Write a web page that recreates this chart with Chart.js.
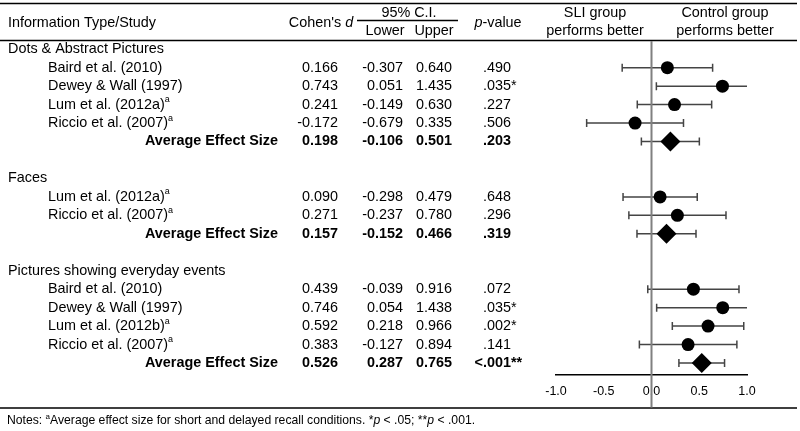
<!DOCTYPE html>
<html>
<head>
<meta charset="utf-8">
<script src="https://cdn.jsdelivr.net/npm/chart.js"></script>
<style>
    html, body { margin: 0; padding: 0; background: #fff; }
    #wrap { width: 800px; height: 431px; position: relative; }
</style>
</head>
<body>
<div id="wrap"><canvas id="forest"></canvas></div>
<script>
// Table rows (top to bottom); '' = spacer row
const rowLabels = [
    'Dots & Abstract Pictures', 'Baird et al. (2010)', 'Dewey & Wall (1997)', 'Lum et al. (2012a)', 'Riccio et al. (2007)', 'Average Effect Size',
    '',
    'Faces', 'Lum et al. (2012a)', 'Riccio et al. (2007)', 'Average Effect Size',
    '',
    'Pictures showing everyday events', 'Baird et al. (2010)', 'Dewey & Wall (1997)', 'Lum et al. (2012b)', 'Riccio et al. (2007)', 'Average Effect Size',
];
const rowKinds = [
    'group', 'study', 'study', 'study', 'study', 'avg',
    'blank',
    'group', 'study', 'study', 'avg',
    'blank',
    'group', 'study', 'study', 'study', 'study', 'avg',
];
const hasSup = [0, 0, 0, 1, 1, 0, 0, 0, 1, 1, 0, 0, 0, 0, 0, 1, 1, 0];
const cohenD = [null, 0.166, 0.743, 0.241, -0.172, 0.198, null, null, 0.090, 0.271, 0.157, null, null, 0.439, 0.746, 0.592, 0.383, 0.526];
const ciLower = [null, -0.307, 0.051, -0.149, -0.679, -0.106, null, null, -0.298, -0.237, -0.152, null, null, -0.039, 0.054, 0.218, -0.127, 0.287];
const ciUpper = [null, 0.640, 1.435, 0.630, 0.335, 0.501, null, null, 0.479, 0.780, 0.466, null, null, 0.916, 1.438, 0.966, 0.894, 0.765];
const pValues = ['', '.490', '.035*', '.227', '.506', '.203', '', '', '.648', '.296', '.319', '', '', '.072', '.035*', '.002*', '.141', '<.001**'];
const xMin = -1.0, xMax = 1.0, xStep = 0.5;

const FAM = '"Liberation Sans", Arial, sans-serif';
const F = (size, style) => `${style || ''} ${size}px ${FAM}`.trim();

const studyPts = [], avgPts = [];
rowKinds.forEach((k, i) => {
    if (k === 'study') studyPts.push({ x: cohenD[i], y: i });
    if (k === 'avg') avgPts.push({ x: cohenD[i], y: i });
});

function drawRich(ctx, parts, x, y, align) {
    let w = 0;
    parts.forEach(p => { ctx.font = p.f; w += ctx.measureText(p.t).width; });
    let cx = align === 'center' ? x - w / 2 : align === 'right' ? x - w : x;
    ctx.textAlign = 'left';
    parts.forEach(p => {
        ctx.font = p.f;
        ctx.fillText(p.t, cx, y + (p.dy || 0));
        cx += ctx.measureText(p.t).width;
    });
}

const forestTable = {
    id: 'forestTable',
    beforeDatasetsDraw(chart) {
        const { ctx, scales: { x, y } } = chart;
        ctx.save();
        ctx.strokeStyle = '#444';
        ctx.lineWidth = 1.5;
        rowKinds.forEach((k, i) => {
            if (k !== 'study' && k !== 'avg') return;
            const py = y.getPixelForValue(i);
            const lo = Math.max(ciLower[i], xMin), hi = Math.min(ciUpper[i], xMax);
            const x0 = x.getPixelForValue(lo), x1 = x.getPixelForValue(hi);
            ctx.beginPath();
            ctx.moveTo(x0, py); ctx.lineTo(x1, py);
            if (ciLower[i] >= xMin) { ctx.moveTo(x0, py - 4); ctx.lineTo(x0, py + 4); }
            if (ciUpper[i] <= xMax) { ctx.moveTo(x1, py - 4); ctx.lineTo(x1, py + 4); }
            ctx.stroke();
        });
        ctx.restore();
    },
    afterDraw(chart) {
        const { ctx, scales: { x, y } } = chart;
        const fs = 14.4;
        ctx.save();
        ctx.fillStyle = '#000';
        ctx.textBaseline = 'middle';

        // rules
        ctx.strokeStyle = '#000';
        ctx.lineWidth = 1.5;
        ctx.beginPath();
        ctx.moveTo(0, 3.5); ctx.lineTo(797, 3.5);
        ctx.moveTo(0, 40.5); ctx.lineTo(797, 40.5);
        ctx.moveTo(0, 408); ctx.lineTo(797, 408);
        ctx.moveTo(357, 20.5); ctx.lineTo(458, 20.5);
        ctx.stroke();

        // header
        drawRich(ctx, [{ t: 'Information Type/Study', f: F(fs) }], 8, 23, 'left');
        drawRich(ctx, [{ t: "Cohen's ", f: F(fs) }, { t: 'd', f: F(fs, 'italic') }], 321, 23, 'center');
        drawRich(ctx, [{ t: '95% C.I.', f: F(fs) }], 409, 13.5, 'center');
        drawRich(ctx, [{ t: 'Lower', f: F(fs) }], 385, 31.5, 'center');
        drawRich(ctx, [{ t: 'Upper', f: F(fs) }], 434, 31.5, 'center');
        drawRich(ctx, [{ t: 'p', f: F(fs, 'italic') }, { t: '-value', f: F(fs) }], 498, 23, 'center');
        drawRich(ctx, [{ t: 'SLI group', f: F(fs) }], 595, 13.5, 'center');
        drawRich(ctx, [{ t: 'performs better', f: F(fs) }], 595, 31.5, 'center');
        drawRich(ctx, [{ t: 'Control group', f: F(fs) }], 725, 13.5, 'center');
        drawRich(ctx, [{ t: 'performs better', f: F(fs) }], 725, 31.5, 'center');

        // body rows
        rowKinds.forEach((k, i) => {
            const py = y.getPixelForValue(i);
            if (k === 'blank') return;
            if (k === 'group') {
                drawRich(ctx, [{ t: rowLabels[i], f: F(fs) }], 8, py, 'left');
                return;
            }
            const bold = k === 'avg' ? 'bold' : '';
            if (k === 'avg') {
                drawRich(ctx, [{ t: rowLabels[i], f: F(fs, bold) }], 278, py, 'right');
            } else {
                const parts = [{ t: rowLabels[i], f: F(fs) }];
                if (hasSup[i]) parts.push({ t: 'a', f: F(9), dy: -5 });
                drawRich(ctx, parts, 48, py, 'left');
            }
            drawRich(ctx, [{ t: cohenD[i].toFixed(3), f: F(fs, bold) }], 338, py, 'right');
            drawRich(ctx, [{ t: ciLower[i].toFixed(3), f: F(fs, bold) }], 403, py, 'right');
            drawRich(ctx, [{ t: ciUpper[i].toFixed(3), f: F(fs, bold) }], 452, py, 'right');
            let px = 483;
            const pv = pValues[i];
            if (pv.startsWith('<')) { ctx.font = F(fs, bold); px -= ctx.measureText('<').width; }
            drawRich(ctx, [{ t: pv, f: F(fs, bold) }], px, py, 'left');
        });

        // notes
        const nf = 12.2;
        drawRich(ctx, [
            { t: 'Notes: ', f: F(nf) },
            { t: 'a', f: F(8), dy: -4 },
            { t: 'Average effect size for short and delayed recall conditions. *', f: F(nf) },
            { t: 'p', f: F(nf, 'italic') },
            { t: ' < .05; **', f: F(nf) },
            { t: 'p', f: F(nf, 'italic') },
            { t: ' < .001.', f: F(nf) },
        ], 7, 421, 'left');

        // zero line
        const zx = x.getPixelForValue(0);
        ctx.strokeStyle = '#808080';
        ctx.lineWidth = 2;
        ctx.beginPath();
        ctx.moveTo(zx, 41); ctx.lineTo(zx, 407.5);
        ctx.stroke();
        ctx.restore();
    },
};

new Chart(document.getElementById('forest'), {
    type: 'scatter',
    data: {
        datasets: [{
            label: 'Study',
            data: studyPts,
            pointStyle: 'circle',
            pointRadius: 6.5,
            pointBackgroundColor: '#000',
            pointBorderWidth: 0,
        }, {
            label: 'Average',
            data: avgPts,
            pointStyle: 'rectRot',
            pointRadius: 10,
            pointBackgroundColor: '#000',
            pointBorderWidth: 0,
        }],
    },
    options: {
        responsive: true,
        maintainAspectRatio: false,
        animation: false,
        events: [],
        layout: { padding: { left: 556, right: 53, top: 40, bottom: 26 } },
        plugins: { legend: { display: false }, tooltip: { enabled: false } },
        scales: {
            x: {
                type: 'linear',
                min: xMin,
                max: xMax,
                afterFit: (axis) => { axis.height = 30; },
                grid: { display: false, drawTicks: false },
                border: { display: true, color: '#000', width: 1.5 },
                ticks: {
                    stepSize: xStep,
                    padding: 9,
                    color: '#000',
                    font: { family: FAM, size: 12.5 },
                    callback: (v) => v.toFixed(1),
                },
            },
            y: {
                type: 'linear',
                display: false,
                reverse: true,
                min: -0.5,
                max: 17.65,
            },
        },
    },
    plugins: [forestTable],
});
</script>
</body>
</html>
